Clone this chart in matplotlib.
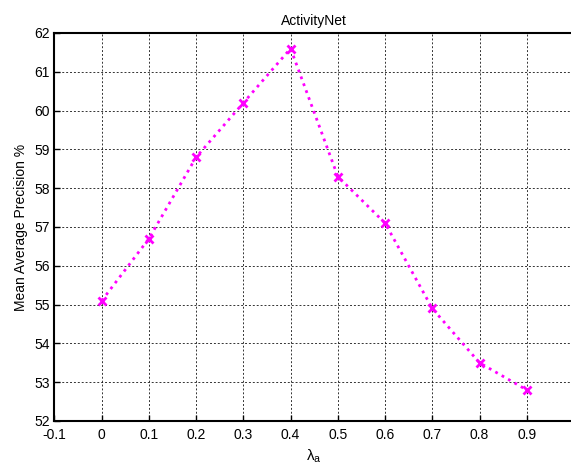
import matplotlib.pyplot as plt
import numpy as np

plt.rcParams['font.family'] = ['Liberation Sans', 'DejaVu Sans']
plt.rcParams['font.size'] = 10

lambdas = [0, 0.1, 0.2, 0.3, 0.4, 0.5, 0.6, 0.7, 0.8, 0.9]
map_vals = [55.1, 56.7, 58.8, 60.2, 61.6, 58.3, 57.1, 54.9, 53.5, 52.8]
xticks = [-0.1, 0, 0.1, 0.2, 0.3, 0.4, 0.5, 0.6, 0.7, 0.8, 0.9]
xticklabels = ["-0.1", "0", "0.1", "0.2", "0.3", "0.4", "0.5", "0.6", "0.7", "0.8", "0.9"]
yticks = list(range(52, 63))

fig = plt.figure(figsize=(5.71, 4.66), dpi=100)
ax = fig.add_axes([0.0954, 0.0966, 0.9098, 0.8326])

ax.plot(lambdas, map_vals, color="#ff00ff", linestyle=":", linewidth=2,
        marker="x", markersize=6, markeredgewidth=2)

ax.set_xlim(-0.1, 1.0)
ax.set_ylim(52, 62)
ax.set_xticks(xticks)
ax.set_xticklabels(xticklabels)
ax.set_yticks(yticks)
ax.grid(True, color="black", linestyle=(0, (2, 2)), linewidth=0.7, alpha=0.8)
ax.tick_params(direction="in", length=4, width=1, colors="black", labelsize=10)
ax.tick_params(axis="x", pad=5)
for s in ax.spines.values():
    s.set_linewidth(1.5)

ax.set_title("ActivityNet", fontsize=10)
ax.set_xlabel(r"$\mathregular{λ_a}$", fontsize=11)
ax.set_ylabel("Mean Average Precision %", fontsize=10)

fig.savefig("out.png", dpi=100)
